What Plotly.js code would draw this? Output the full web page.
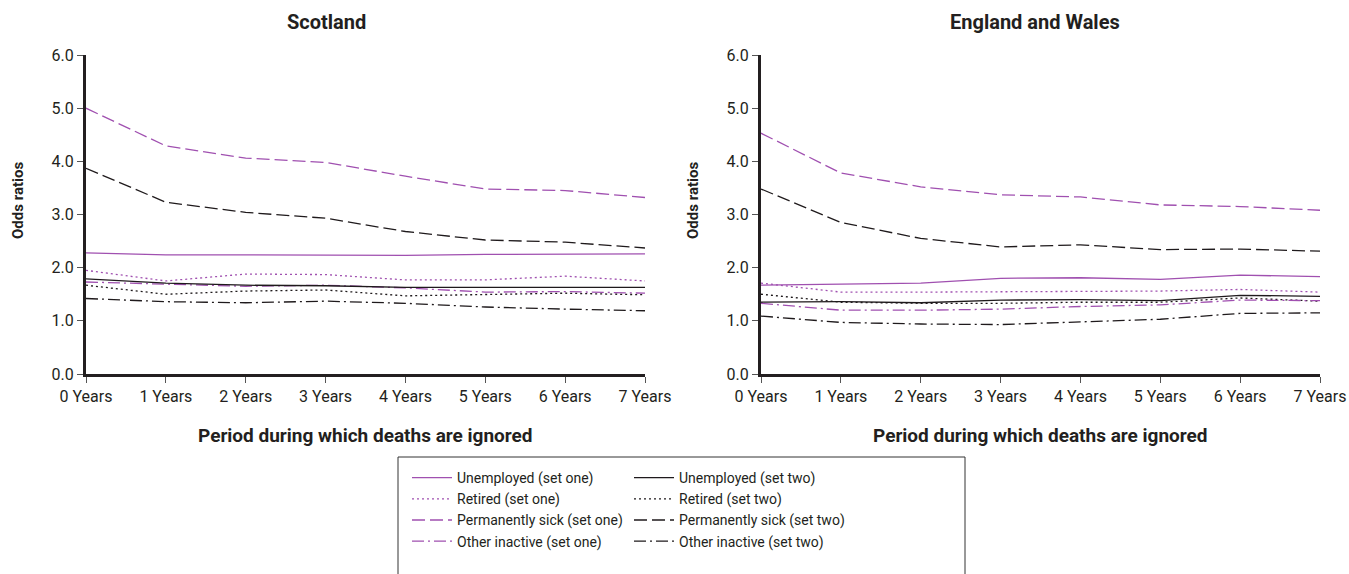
<!DOCTYPE html>
<html>
<head>
<meta charset="utf-8">
<script src="https://cdn.plot.ly/plotly-3.0.1.min.js"></script>
<style>html,body{margin:0;padding:0;background:#fff;}#chart{width:1349px;height:574px;}</style>
</head>
<body>
<div id="chart"></div>
<script>
// ---- Data ----
const periods = [0, 1, 2, 3, 4, 5, 6, 7];
const periodLabels = ["0 Years", "1 Years", "2 Years", "3 Years", "4 Years", "5 Years", "6 Years", "7 Years"];
const yTicks = [0, 1, 2, 3, 4, 5, 6];

const seriesNames = [
  "Unemployed (set one)", "Unemployed (set two)",
  "Retired (set one)", "Retired (set two)",
  "Permanently sick (set one)", "Permanently sick (set two)",
  "Other inactive (set one)", "Other inactive (set two)"
];

// Scotland
const scotUnemp1  = [2.28, 2.24, 2.24, 2.24, 2.23, 2.25, 2.26, 2.26];
const scotUnemp2  = [1.79, 1.71, 1.67, 1.66, 1.63, 1.63, 1.64, 1.63];
const scotRet1    = [1.95, 1.75, 1.88, 1.87, 1.77, 1.77, 1.84, 1.75];
const scotRet2    = [1.67, 1.50, 1.56, 1.58, 1.47, 1.50, 1.52, 1.49];
const scotSick1   = [5.00, 4.29, 4.06, 3.98, 3.72, 3.48, 3.45, 3.32];
const scotSick2   = [3.87, 3.23, 3.04, 2.93, 2.68, 2.52, 2.48, 2.37];
const scotOther1  = [1.73, 1.69, 1.65, 1.67, 1.62, 1.54, 1.55, 1.52];
const scotOther2  = [1.42, 1.36, 1.34, 1.37, 1.33, 1.26, 1.22, 1.19];

// England and Wales
const ewUnemp1  = [1.67, 1.69, 1.71, 1.80, 1.81, 1.78, 1.86, 1.83];
const ewUnemp2  = [1.35, 1.36, 1.34, 1.39, 1.40, 1.38, 1.48, 1.46];
const ewRet1    = [1.71, 1.54, 1.54, 1.55, 1.55, 1.56, 1.59, 1.54];
const ewRet2    = [1.50, 1.35, 1.33, 1.33, 1.35, 1.35, 1.43, 1.37];
const ewSick1   = [4.53, 3.78, 3.52, 3.37, 3.33, 3.18, 3.15, 3.08];
const ewSick2   = [3.48, 2.85, 2.55, 2.39, 2.43, 2.34, 2.35, 2.31];
const ewOther1  = [1.33, 1.20, 1.20, 1.22, 1.27, 1.30, 1.39, 1.38];
const ewOther2  = [1.09, 0.97, 0.94, 0.93, 0.98, 1.03, 1.14, 1.15];

// ---- Styles ----
const PURPLE = "#a050b0";
const BLACK = "#1f1a1c";
const DOT = "2px,3px";
const DASH = "13px,5px";
const DASHDOT = "12px,4px,2px,4px";
const styles = [
  {color: PURPLE, dash: "solid"}, {color: BLACK, dash: "solid"},
  {color: PURPLE, dash: DOT},     {color: BLACK, dash: DOT},
  {color: PURPLE, dash: DASH},    {color: BLACK, dash: DASH},
  {color: PURPLE, dash: DASHDOT}, {color: BLACK, dash: DASHDOT}
];

const scotData = [scotUnemp1, scotUnemp2, scotRet1, scotRet2, scotSick1, scotSick2, scotOther1, scotOther2];
const ewData = [ewUnemp1, ewUnemp2, ewRet1, ewRet2, ewSick1, ewSick2, ewOther1, ewOther2];

const traces = [];
// legend column order: set one (even indices) in legend, set two (odd) in legend2
[0, 2, 4, 6, 1, 3, 5, 7].forEach(i => traces.push({
  x: periods, y: scotData[i], type: "scatter", mode: "lines", name: seriesNames[i],
  line: {color: styles[i].color, dash: styles[i].dash, width: 1.3},
  xaxis: "x", yaxis: "y", showlegend: true, legend: (i % 2 === 0) ? "legend" : "legend2",
  hoverinfo: "skip"
}));
ewData.forEach((ys, i) => traces.push({
  x: periods, y: ys, type: "scatter", mode: "lines", name: seriesNames[i],
  line: {color: styles[i].color, dash: styles[i].dash, width: 1.3},
  xaxis: "x2", yaxis: "y2", showlegend: false, hoverinfo: "skip"
}));

const W = 1349, H = 574;
const px = v => v / W;
const py = v => 1 - v / H;
const FONT = "Roboto, sans-serif";
const TXT = "#231f20";

const xAxisBase = {
  range: [0, 7], tickmode: "array", tickvals: periods, ticktext: periodLabels,
  showline: true, linecolor: TXT, linewidth: 3, ticks: "outside", ticklen: 6,
  tickwidth: 1, tickcolor: "#555", showgrid: false, zeroline: false,
  tickfont: {family: FONT, size: 16, color: TXT}, automargin: false, fixedrange: true
};
const yAxisBase = {
  range: [0, 6], tickmode: "array", tickvals: yTicks, tickformat: ".1f",
  showline: true, linecolor: TXT, linewidth: 3, ticks: "outside", ticklen: 6,
  tickwidth: 1, tickcolor: "#555", showgrid: false, zeroline: false,
  tickfont: {family: FONT, size: 16, color: TXT}, automargin: false, fixedrange: true,
  domain: [py(374), py(55)]
};

const titleFont = {family: FONT, size: 20, color: TXT, weight: "bold"};
const xtFont = {family: FONT, size: 19, color: TXT, weight: "bold"};
const ytFont = {family: FONT, size: 15, color: TXT, weight: "bold"};
const legendBase = {
  orientation: "v", xanchor: "left", yanchor: "top", itemwidth: 40,
  font: {family: FONT, size: 14, color: TXT}, bgcolor: "rgba(0,0,0,0)",
  borderwidth: 0, tracegroupgap: 0, itemclick: false, itemdoubleclick: false
};

const layout = {
  width: W, height: H,
  margin: {l: 0, r: 0, t: 0, b: 0},
  paper_bgcolor: "#fff", plot_bgcolor: "#fff",
  font: {family: FONT, color: TXT},
  xaxis: Object.assign({}, xAxisBase, {domain: [px(86), px(645)], anchor: "y"}),
  yaxis: Object.assign({}, yAxisBase, {anchor: "x"}),
  xaxis2: Object.assign({}, xAxisBase, {domain: [px(761), px(1320)], anchor: "y2"}),
  yaxis2: Object.assign({}, yAxisBase, {anchor: "x2"}),
  showlegend: true,
  legend: Object.assign({}, legendBase, {x: px(407), y: py(462)}),
  legend2: Object.assign({}, legendBase, {x: px(629), y: py(462)}),
  shapes: [{
    type: "rect", xref: "paper", yref: "paper",
    x0: px(398), x1: px(965), y0: py(600), y1: py(457),
    line: {color: "#333", width: 1}, fillcolor: "rgba(0,0,0,0)", layer: "below"
  }],
  annotations: [
    {text: "Scotland", x: px(326), y: py(22), xref: "paper", yref: "paper", showarrow: false, font: titleFont, xanchor: "center", yanchor: "middle"},
    {text: "England and Wales", x: px(1035), y: py(22), xref: "paper", yref: "paper", showarrow: false, font: titleFont, xanchor: "center", yanchor: "middle"},
    {text: "Period during which deaths are ignored", x: px(365.5), y: py(435), xref: "paper", yref: "paper", showarrow: false, font: xtFont, xanchor: "center", yanchor: "middle"},
    {text: "Period during which deaths are ignored", x: px(1040.5), y: py(435), xref: "paper", yref: "paper", showarrow: false, font: xtFont, xanchor: "center", yanchor: "middle"},
    {text: "Odds ratios", x: px(18), y: py(201), xref: "paper", yref: "paper", showarrow: false, font: ytFont, textangle: -90, xanchor: "center", yanchor: "middle"},
    {text: "Odds ratios", x: px(693), y: py(201), xref: "paper", yref: "paper", showarrow: false, font: ytFont, textangle: -90, xanchor: "center", yanchor: "middle"}
  ]
};

Plotly.newPlot("chart", traces, layout, {displayModeBar: false, staticPlot: true});
</script>
</body>
</html>
